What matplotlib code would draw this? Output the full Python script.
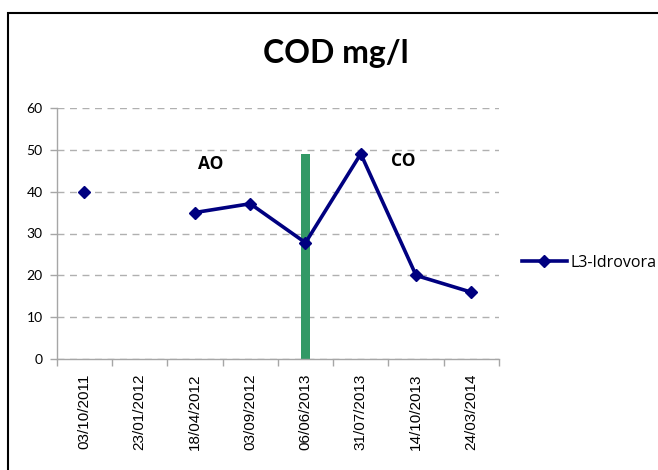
import matplotlib
matplotlib.use("Agg")
import matplotlib.pyplot as plt
from matplotlib.patches import Rectangle
import numpy as np

# data
dates = ["03/10/2011", "23/01/2012", "18/04/2012", "03/09/2012",
         "06/06/2013", "31/07/2013", "14/10/2013", "24/03/2014"]
cod = [40, np.nan, 35, 37.1, 27.8, 49, 20, 16]
series_name = "L3-Idrovora"
marker_index = 4        # green bar at 06/06/2013
marker_height = 49
y_ticks = [0, 10, 20, 30, 40, 50, 60]

W, H = 658, 470
fig = plt.figure(figsize=(W / 100, H / 100), dpi=100)
ax = fig.add_axes([56.7 / W, 1 - 359.3 / H, (499 - 56.7) / W, (359.3 - 107.7) / H])

x = np.arange(len(dates))

# green separator bar (AO / CO)
ax.bar(x[marker_index], marker_height, width=0.18, color="#339966", zorder=2)

# series
ax.plot(x, cod, color="#000080", lw=2.6, marker="D", ms=6,
        label=series_name, zorder=3)

ax.set_xlim(-0.5, len(dates) - 0.5)
ax.set_ylim(0, 60)
ax.set_yticks(y_ticks)
ax.set_yticklabels([str(v) for v in y_ticks], family="Lato", fontsize=10)

# labels at category centres, tick marks at category edges
ax.set_xticks(x)
ax.set_xticklabels(dates, rotation=90, family="Liberation Sans", fontsize=11)
ax.set_xticks(np.arange(len(dates) + 1) - 0.5, minor=True)
ax.tick_params(axis="x", which="major", length=0, pad=10)
ax.tick_params(axis="x", which="minor", length=5, color="#a6a6a6", width=1)
ax.tick_params(axis="y", length=5, color="#a6a6a6", width=1, pad=5)

ax.yaxis.grid(True, ls=(0, (5, 4)), color="#b0b0b0", lw=1)
ax.set_axisbelow(True)
for s in ["top", "right"]:
    ax.spines[s].set_visible(False)
for s in ["left", "bottom"]:
    ax.spines[s].set_color("#a6a6a6")
    ax.spines[s].set_linewidth(1)

ax.text(2.28, 46.6, "AO", fontsize=12.5, fontweight="bold", family="Open Sans",
        ha="center", va="center")
ax.text(5.77, 47.2, "CO", fontsize=12.5, fontweight="bold", family="Open Sans",
        ha="center", va="center")

fig.text(336 / W, 1 - 54 / H, "COD mg/l", fontsize=23, fontweight="bold",
         family="Lato", ha="center", va="center")

ax.legend(loc="center left", bbox_to_anchor=(522 / W, 1 - 262.7 / H),
          bbox_transform=fig.transFigure, frameon=False, borderpad=0,
          borderaxespad=0, handlelength=2.8, handletextpad=0.25, numpoints=1,
          prop={"family": "Open Sans", "size": 11.5})

# chart border, partly cut off at right and bottom
fig.patches.append(Rectangle((8 / W, -0.1), 1.2, 1 - 13 / H + 0.1, fill=False,
                             ec="black", lw=1.5, transform=fig.transFigure))

fig.savefig("out.png", dpi=100)
